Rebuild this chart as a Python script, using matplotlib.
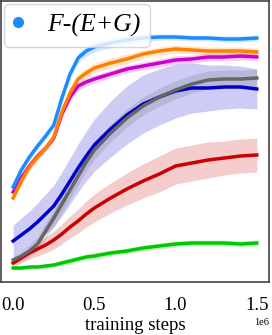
import matplotlib.pyplot as plt
import numpy as np
from matplotlib.lines import Line2D

# training steps (in millions)
steps = [0.0, 0.05, 0.1, 0.15, 0.2, 0.25, 0.3, 0.35, 0.4, 0.45, 0.5,
         0.6, 0.7, 0.8, 0.9, 1.0, 1.1, 1.2, 1.3, 1.4, 1.5]

# mean score per run (arbitrary units)
light_blue = [95, 112, 125, 136, 146, 157, 184, 208, 224, 231, 235,
              239, 242, 244, 245, 245, 244, 244, 243, 243, 244]
orange = [84, 101, 115, 125, 134, 145, 170, 189, 203, 209, 214,
          219, 223, 228, 231, 233, 232, 231, 231, 231, 230]
magenta = [90, 104, 116, 126, 134, 144, 168, 185, 196, 200, 203,
           208, 213, 216, 219, 222, 223, 225, 225, 226, 225]
dark_blue = [41, 47, 53, 60, 68, 76, 88, 101, 114, 126, 137,
             153, 167, 178, 185, 191, 194, 194, 195, 195, 193]
gray = [22, 26, 31, 38, 51, 64, 78, 92, 106, 120, 132,
        149, 164, 176, 185, 192, 198, 202, 203, 203, 204]
red = [19, 24, 29, 33, 37, 42, 48, 55, 61, 68, 74,
       84, 93, 101, 108, 116, 119, 122, 124, 126, 127]
green = [14, 14, 15, 15, 16, 17, 19, 21, 23, 25, 26,
         29, 31, 34, 36, 38, 39, 39, 39, 38, 39]

# spread (half width of shaded band)
light_blue_sd = [3, 3, 3, 3, 3, 3, 4, 4, 5, 5, 5, 5, 4, 4, 3, 3, 3, 3, 3, 3, 3]
orange_sd = [4, 4, 4, 4, 4, 4, 5, 5, 5, 5, 5, 5, 5, 4, 4, 4, 4, 4, 4, 4, 4]
magenta_sd = [3, 3, 3, 3, 3, 3, 4, 4, 4, 4, 4, 4, 4, 4, 4, 4, 4, 4, 4, 4, 4]
dark_blue_sd = [16, 17, 18, 19, 20, 21, 22, 23, 24, 25, 26,
                28, 29, 29, 28, 27, 25, 23, 22, 21, 20]
gray_sd = [4, 5, 6, 7, 8, 8, 9, 9, 9, 9, 9, 9, 9, 9, 9, 9, 9, 9, 9, 9, 9]
red_sd = [4, 5, 6, 7, 8, 9, 10, 11, 12, 13, 14,
          15, 16, 17, 18, 18, 18, 18, 17, 17, 17]
green_sd = [2, 2, 2, 2, 2, 2, 3, 3, 3, 3, 3, 3, 3, 3, 3, 3, 3, 3, 3, 3, 3]

series = [
    (green, green_sd, "#00c800"),
    (red, red_sd, "#cc0000"),
    (dark_blue, dark_blue_sd, "#0000cc"),
    (gray, gray_sd, "#666666"),
    (magenta, magenta_sd, "#cc00cc"),
    (orange, orange_sd, "#ff8000"),
    (light_blue, light_blue_sd, "#1a8cff"),
]

plt.rcParams["font.family"] = ["Liberation Serif", "DejaVu Serif"]

fig = plt.figure(figsize=(2.72, 3.35), dpi=100)
ax = fig.add_axes([1 / 272, 53 / 335, 268 / 272, 281 / 335])

x = np.array(steps) * 1e6
for mean, sd, color in series:
    mean = np.array(mean, dtype=float)
    sd = np.array(sd, dtype=float)
    ax.fill_between(x, mean - sd, mean + sd, color=color, alpha=0.2, lw=0)
    ax.plot(x, mean, color=color, lw=2.5)

ax.set_ylim(0, 281)
ax.set_yticks([])
ax.set_xticks([0, 0.5e6, 1.0e6, 1.5e6])
ax.tick_params(axis="x", length=0, pad=11, labelsize=13.5)
ax.xaxis.get_offset_text().set_fontsize(7.5)
ax.set_xlabel("training steps", fontsize=13.5, labelpad=2)
for spine in ax.spines.values():
    spine.set_color("#444444")
    spine.set_linewidth(1.2)

handle = Line2D([], [], marker="o", linestyle="none", color="#1a8cff", markersize=7)
ax.legend([handle], ["F-(E+G)"], loc="upper left", borderaxespad=0.1,
          handletextpad=0.9, handlelength=0.4, borderpad=0.38,
          prop={"family": "Liberation Serif", "style": "italic", "size": 18.5})

fig.savefig("out.png", dpi=100)
